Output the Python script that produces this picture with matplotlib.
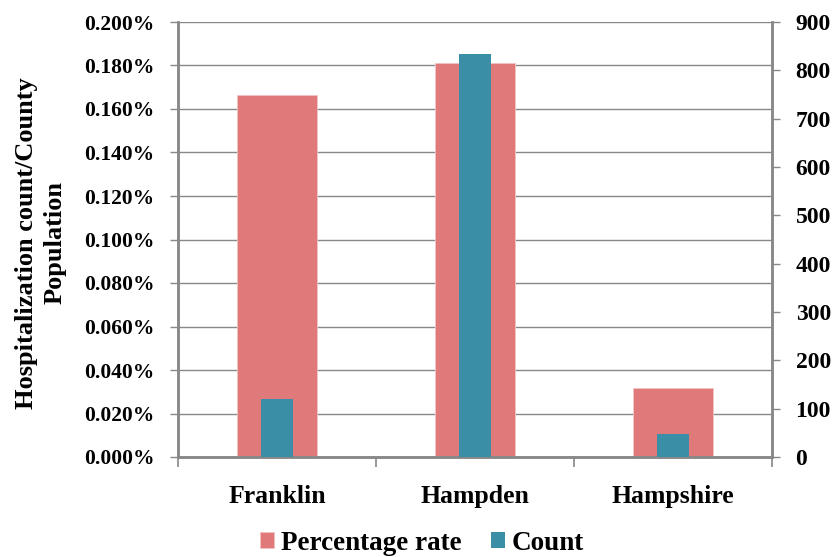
import matplotlib.pyplot as plt
from matplotlib.ticker import FuncFormatter, MultipleLocator

COUNTIES = ["Franklin", "Hampden", "Hampshire"]
RATE_PCT = [0.1663, 0.1811, 0.0319]
COUNTS = [121, 834, 48]

PINK = "#E07A7A"
TEAL = "#3A8FA7"
GRID = "#888888"
FONT = "Liberation Serif"

plt.rcParams["font.family"] = FONT
plt.rcParams["font.weight"] = "bold"

fig = plt.figure(figsize=(8.4, 5.57), dpi=100)
ax = fig.add_axes([178 / 840, 1 - 457 / 557, (772 - 178) / 840, (457 - 22) / 557])
ax2 = ax.twinx()

xs = list(range(len(COUNTIES)))
ax.bar(xs, RATE_PCT, width=0.4, color=PINK, edgecolor="#F2C4C4", linewidth=0.6,
       zorder=2, label="Percentage rate")
ax2.bar(xs, COUNTS, width=0.165, color=TEAL, zorder=3, label="Count")

ax.set_xlim(-0.5, 2.5)
ax.set_ylim(0, 0.2)
ax2.set_ylim(0, 900)

ax.yaxis.set_major_locator(MultipleLocator(0.02))
ax.yaxis.set_major_formatter(FuncFormatter(lambda v, _: f"{v:.3f}%"))
ax2.yaxis.set_major_locator(MultipleLocator(100))

ax.grid(axis="y", color=GRID, linewidth=1.0, zorder=0)
ax.set_axisbelow(True)

# category boundaries get the tick marks, labels sit at the centres
ax.set_xticks([-0.5, 0.5, 1.5, 2.5])
ax.set_xticklabels([])
ax.set_xticks(xs, minor=True)
ax.set_xticklabels(COUNTIES, minor=True, fontsize=18.5, fontweight="bold")
ax.tick_params(axis="x", which="major", length=7, width=1.2, color=GRID, direction="out")
ax.tick_params(axis="x", which="minor", length=0, pad=20)

ax.tick_params(axis="y", length=6, width=1.0, color=GRID, pad=11, labelsize=15.5)
ax2.tick_params(axis="y", length=6, width=1.0, color=GRID, pad=11, labelsize=17)
for lab in ax.get_yticklabels() + ax2.get_yticklabels():
    lab.set_fontweight("bold")

for a in (ax, ax2):
    a.spines["top"].set_visible(False)
    for side in ("left", "right", "bottom"):
        a.spines[side].set_color(GRID)
        a.spines[side].set_linewidth(1.8)

fig.text(41 / 840, 1 - 243 / 557, "Hospitalization count/County\nPopulation",
         rotation=90, ha="center", va="center", multialignment="center",
         fontsize=19, fontweight="bold", linespacing=1.3)

handles = ax.get_legend_handles_labels()[0] + ax2.get_legend_handles_labels()[0]
labels = ["Percentage rate", "Count"]
fig.legend(handles, labels, loc="center", bbox_to_anchor=(422 / 840, 1 - 543 / 557),
           ncol=2, frameon=False, handlelength=0.5, handleheight=0.5,
           handletextpad=0.25, columnspacing=1.1, borderpad=0,
           prop={"family": FONT, "weight": "bold", "size": 19.5})

fig.savefig("out.png", dpi=100)
